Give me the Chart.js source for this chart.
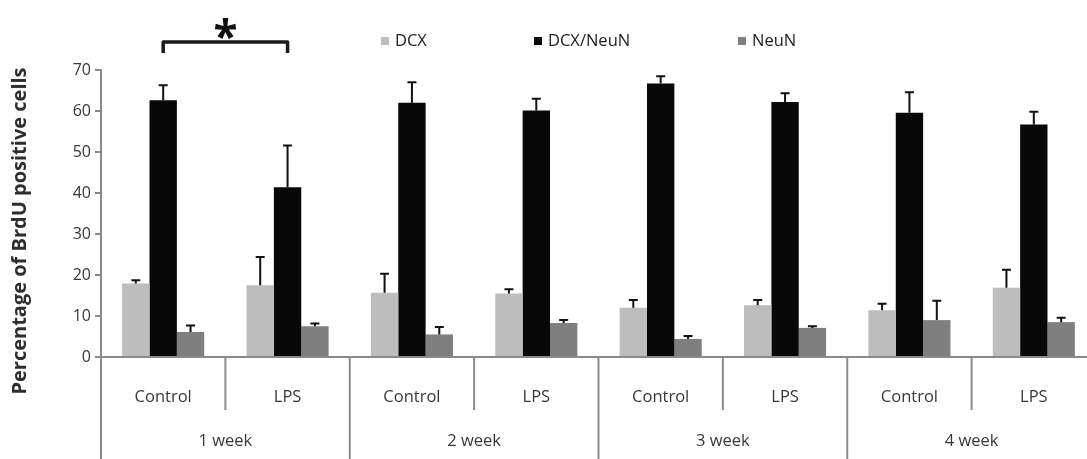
<!DOCTYPE html>
<html>
<head>
<meta charset="utf-8">
<script src="https://cdn.jsdelivr.net/npm/chart.js@4.4.1/dist/chart.umd.min.js"></script>
<style>
  html, body { margin: 0; padding: 0; background: #ffffff; overflow: hidden; }
  #wrap { width: 1096px; height: 459px; position: relative; }
</style>
</head>
<body>
<div id="wrap"><canvas id="c" width="1096" height="459"></canvas></div>
<script>
// Treatment groups along the x axis, and the week each pair belongs to
const groups = ['Control', 'LPS', 'Control', 'LPS', 'Control', 'LPS', 'Control', 'LPS'];
const weeks = ['1 week', '2 week', '3 week', '4 week'];
const seriesNames = ['DCX', 'DCX/NeuN', 'NeuN'];

// Percentage of BrdU positive cells (mean) and the upper error
const dcx        = [17.9, 17.5, 15.7, 15.5, 12.0, 12.6, 11.4, 16.9];
const dcxErr     = [0.8, 6.9, 4.6, 1.0, 1.9, 1.3, 1.6, 4.4];
const dcxNeun    = [62.6, 41.4, 62.0, 60.1, 66.7, 62.2, 59.6, 56.7];
const dcxNeunErr = [3.7, 10.2, 5.0, 2.9, 1.8, 2.1, 5.0, 3.1];
const neun       = [6.1, 7.5, 5.5, 8.3, 4.4, 7.1, 9.0, 8.5];
const neunErr    = [1.6, 0.7, 1.8, 0.7, 0.7, 0.4, 4.7, 1.1];

// Value axis
const yMin = 0, yMax = 70, yStep = 10;

// Significant difference: 1 week Control vs 1 week LPS
const sigFrom = 0, sigTo = 1, sigMark = '*';

const seriesColors = ['#bdbdbd', '#080808', '#7f7f7f'];
const axisColor = '#8a8a8a';
const textColor = '#383838';
const FONT = "'Open Sans', 'Noto Sans', sans-serif";

Chart.defaults.font.family = FONT;

const decor = {
  id: 'decor',
  afterDatasetsDraw(chart) {
    const ctx = chart.ctx;
    const ys = chart.scales.y;
    ctx.save();
    ctx.strokeStyle = '#111111';
    ctx.lineWidth = 2;
    chart.data.datasets.forEach((ds, i) => {
      const meta = chart.getDatasetMeta(i);
      meta.data.forEach((bar, j) => {
        const v = ds.data[j];
        const e = ds.errors[j];
        const yb = ys.getPixelForValue(v);
        const yt = ys.getPixelForValue(v + e);
        ctx.beginPath();
        ctx.moveTo(bar.x, yb);
        ctx.lineTo(bar.x, yt);
        ctx.moveTo(bar.x - 4.5, yt);
        ctx.lineTo(bar.x + 4.5, yt);
        ctx.stroke();
      });
    });
    ctx.restore();
  },
  afterDraw(chart) {
    const ctx = chart.ctx;
    const xs = chart.scales.x;
    const area = chart.chartArea;
    const step = xs.getPixelForValue(1) - xs.getPixelForValue(0);
    const H = chart.height;
    ctx.save();

    // group dividers below the axis
    ctx.strokeStyle = axisColor;
    ctx.lineWidth = 2;
    for (let k = 0; k <= groups.length; k++) {
      const px = xs.getPixelForValue(0) - step / 2 + k * step;
      ctx.beginPath();
      ctx.moveTo(px, area.bottom);
      ctx.lineTo(px, k % 2 === 0 ? H : area.bottom + 53);
      ctx.stroke();
    }

    // week labels
    ctx.fillStyle = textColor;
    ctx.font = '16.5px ' + FONT;
    ctx.textAlign = 'center';
    ctx.textBaseline = 'middle';
    weeks.forEach((w, i) => {
      const cx = (xs.getPixelForValue(2 * i) + xs.getPixelForValue(2 * i + 1)) / 2;
      ctx.fillText(w, cx, 441);
    });

    // legend
    const legendX = [381, 534, 738];
    ctx.font = '16.5px ' + FONT;
    ctx.textAlign = 'left';
    chart.data.datasets.forEach((ds, i) => {
      ctx.fillStyle = ds.backgroundColor;
      ctx.fillRect(legendX[i], 37, 8, 8);
      ctx.fillStyle = '#222222';
      ctx.fillText(ds.label, legendX[i] + 14, 41.5);
    });

    // y axis title
    ctx.save();
    ctx.translate(20, 231);
    ctx.rotate(-Math.PI / 2);
    ctx.font = 'bold 20px ' + FONT;
    ctx.fillStyle = '#2e2e2e';
    ctx.textAlign = 'center';
    ctx.textBaseline = 'middle';
    ctx.fillText('Percentage of BrdU positive cells', 0, 0);
    ctx.restore();

    // significance bracket
    const x1 = xs.getPixelForValue(sigFrom);
    const x2 = xs.getPixelForValue(sigTo);
    ctx.strokeStyle = '#1a1a1a';
    ctx.lineWidth = 3.5;
    ctx.lineJoin = 'round';
    ctx.beginPath();
    ctx.moveTo(x1, 53);
    ctx.lineTo(x1, 42);
    ctx.lineTo(x2, 42);
    ctx.lineTo(x2, 53);
    ctx.stroke();
    ctx.fillStyle = '#111111';
    ctx.font = 'bold 44px ' + FONT;
    ctx.textAlign = 'center';
    ctx.textBaseline = 'alphabetic';
    ctx.fillText(sigMark, (x1 + x2) / 2, 52);

    ctx.restore();
  }
};

const series = [
  { values: dcx, errors: dcxErr },
  { values: dcxNeun, errors: dcxNeunErr },
  { values: neun, errors: neunErr }
];

new Chart(document.getElementById('c'), {
  type: 'bar',
  data: {
    labels: groups,
    datasets: series.map((s, i) => ({
      label: seriesNames[i],
      data: s.values,
      errors: s.errors,
      backgroundColor: seriesColors[i],
      borderWidth: 0,
      categoryPercentage: 0.66,
      barPercentage: 1.0
    }))
  },
  options: {
    responsive: false,
    devicePixelRatio: 1,
    animation: false,
    layout: { padding: { top: 70, left: 0, right: 0, bottom: 0 } },
    plugins: { legend: { display: false }, tooltip: { enabled: false } },
    scales: {
      x: {
        type: 'category',
        offset: true,
        grid: { display: false },
        border: { color: axisColor, width: 2 },
        ticks: { color: textColor, font: { size: 16.5 }, padding: 22, maxRotation: 0, autoSkip: false },
        afterFit(scale) { scale.height = 102; }
      },
      y: {
        min: yMin,
        max: yMax,
        ticks: { stepSize: yStep, color: textColor, font: { size: 16 }, padding: 4 },
        grid: { drawOnChartArea: false, drawTicks: true, tickLength: 6, color: axisColor, lineWidth: 2 },
        border: { color: axisColor, width: 2 },
        afterFit(scale) { scale.width = 101; }
      }
    }
  },
  plugins: [decor]
});
</script>
</body>
</html>
